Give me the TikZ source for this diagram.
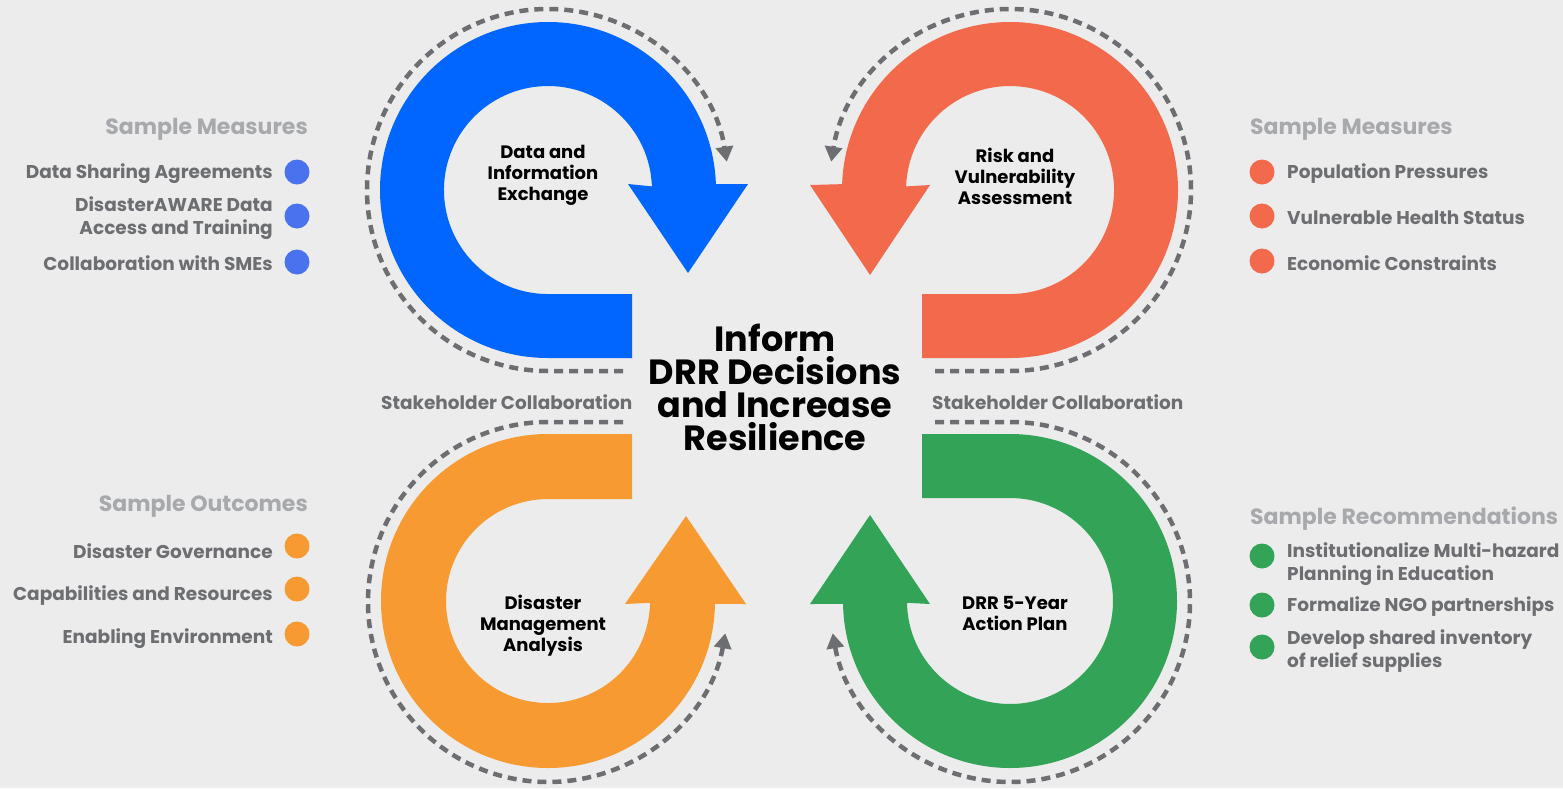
\documentclass[tikz,border=0pt]{standalone}
\usepackage{fontspec}
\setmainfont{Poppins}
\usetikzlibrary{arrows.meta}
\definecolor{bg}{HTML}{ECECEC}
\definecolor{blueA}{HTML}{0066FF}
\definecolor{blueB}{HTML}{4A72EE}
\definecolor{redA}{HTML}{F26A4B}
\definecolor{orangeA}{HTML}{F79A31}
\definecolor{greenA}{HTML}{33A457}
\definecolor{txt}{HTML}{6D6E71}
\definecolor{headc}{HTML}{A7A9AC}
\definecolor{dashc}{HTML}{6D6E71}
\tikzset{
  heading/.style={inner sep=0pt, text=headc, font=\fontsize{22}{26}\selectfont\bfseries},
  item/.style={inner sep=0pt, text=txt, font=\fontsize{18.5}{22.5}\selectfont\bfseries},
  quad/.style={inner sep=0pt, text=black, align=center, font=\fontsize{18}{21}\selectfont\bfseries},
  centre/.style={inner sep=0pt, text=black, align=center, font=\fontsize{35}{33}\selectfont\bfseries},
  bullet/.style={circle, inner sep=0pt, minimum size=25pt},
  dashline/.style={draw=dashc, line width=4.5pt, dash pattern=on 9pt off 6pt, -{Triangle[length=15pt,width=17pt]}},
}
\begin{document}
\begin{tikzpicture}[x=1pt,y=1pt,yscale=-1]
\fill[bg] (0,0) rectangle (1563,788);
\useasboundingbox (0,0) rectangle (1563,788);

% arrows (bands)
\fill[blueA] (632,358) -- (548,358) arc[start angle=90, end angle=358, radius=168]
  -- (748,184) -- (688,273) -- (628,184) -- (651.9,186.4)
  arc[start angle=358, end angle=90, radius=104] -- (632,294) -- cycle;
\fill[redA] (922,358) -- (1010,358) arc[start angle=90, end angle=-178, radius=168]
  -- (810,185) -- (870,275) -- (930,185) -- (906.1,186.4)
  arc[start angle=-178, end angle=90, radius=104] -- (922,294) -- cycle;
\fill[orangeA] (632,434) -- (548,434) arc[start angle=270, end angle=1, radius=167]
  -- (746,604) -- (686,516) -- (625,604) -- (650,602.8)
  arc[start angle=1, end angle=270, radius=102] -- (632,499) -- cycle;
\fill[greenA] (922,434) -- (1010,434) arc[start angle=270, end angle=539, radius=167]
  -- (810,604) -- (870,515) -- (930,604) -- (907,602.8)
  arc[start angle=539, end angle=270, radius=103] -- (922,498) -- cycle;

% dashed cycles
\coordinate (dbS) at (623,371);
\coordinate (drS) at (935,371);
\coordinate (doS) at (623,422);
\coordinate (dgS) at (935,422);
\draw[dashline] (dbS) -- (548,371) arc[start angle=90, end angle=351, radius=181];
\draw[dashline] (drS) -- (1010,371) arc[start angle=90, end angle=-171, radius=181];
\draw[dashline] (doS) -- (548,422) arc[start angle=270, end angle=10, radius=180];
\draw[dashline] (dgS) -- (1010,422) arc[start angle=270, end angle=530, radius=180];

% quadrant labels
\node[quad] (q1) at (543,175) {Data and\\Information\\Exchange};
\node[quad] (q2) at (1015,176) {Risk and\\Vulnerability\\Assessment};
\node[quad] (q3) at (543,626) {Disaster\\Management\\Analysis};
\node[quad] (q4) at (1015,613) {DRR 5-Year\\Action Plan};

% centre
\node[centre] (c) at (775,387) {Inform\\DRR Decisions\\and Increase\\Resilience};

% stakeholder
\node[item, anchor=west] (s1) at (381,402) {Stakeholder Collaboration};
\node[item, anchor=west] (s2) at (932,402) {Stakeholder Collaboration};

% left top
\node[heading, anchor=east] (h1) at (308,129) {Sample Measures};
\node[bullet, fill=blueB] (b11) at (297,172) {};
\node[bullet, fill=blueB] (b12) at (297,216) {};
\node[bullet, fill=blueB] (b13) at (297,262) {};
\node[item, anchor=east] (t11) at (273,174) {Data Sharing Agreements};
\node[item, anchor=east, align=right] (t12) at (273,218) {DisasterAWARE Data\\Access and Training};
\node[item, anchor=east] (t13) at (273,263) {Collaboration with SMEs};

% left bottom
\node[heading, anchor=east] (h3) at (308,506) {Sample Outcomes};
\node[bullet, fill=orangeA] (b31) at (297,546) {};
\node[bullet, fill=orangeA] (b32) at (297,589) {};
\node[bullet, fill=orangeA] (b33) at (297,634) {};
\node[item, anchor=east] (t31) at (273,551) {Disaster Governance};
\node[item, anchor=east] (t32) at (273,596) {Capabilities and Resources};
\node[item, anchor=east] (t33) at (273,639) {Enabling Environment};

% right top
\node[heading, anchor=west] (h2) at (1250,129) {Sample Measures};
\node[bullet, fill=redA] (b21) at (1262,172) {};
\node[bullet, fill=redA] (b22) at (1262,216) {};
\node[bullet, fill=redA] (b23) at (1262,261) {};
\node[item, anchor=west] (t21) at (1287,174) {Population Pressures};
\node[item, anchor=west] (t22) at (1287,218) {Vulnerable Health Status};
\node[item, anchor=west] (t23) at (1287,263) {Economic Constraints};

% right bottom
\node[heading, anchor=west] (h4) at (1250,519) {Sample Recommendations};
\node[bullet, fill=greenA] (b41) at (1262,556) {};
\node[bullet, fill=greenA] (b42) at (1262,605) {};
\node[bullet, fill=greenA] (b43) at (1262,647) {};
\node[item, anchor=west, align=left] (t41) at (1287,564) {Institutionalize Multi-hazard\\Planning in Education};
\node[item, anchor=west] (t42) at (1287,607) {Formalize NGO partnerships};
\node[item, anchor=west, align=left] (t43) at (1287,651) {Develop shared inventory\\of relief supplies};
\end{tikzpicture}
\end{document}
